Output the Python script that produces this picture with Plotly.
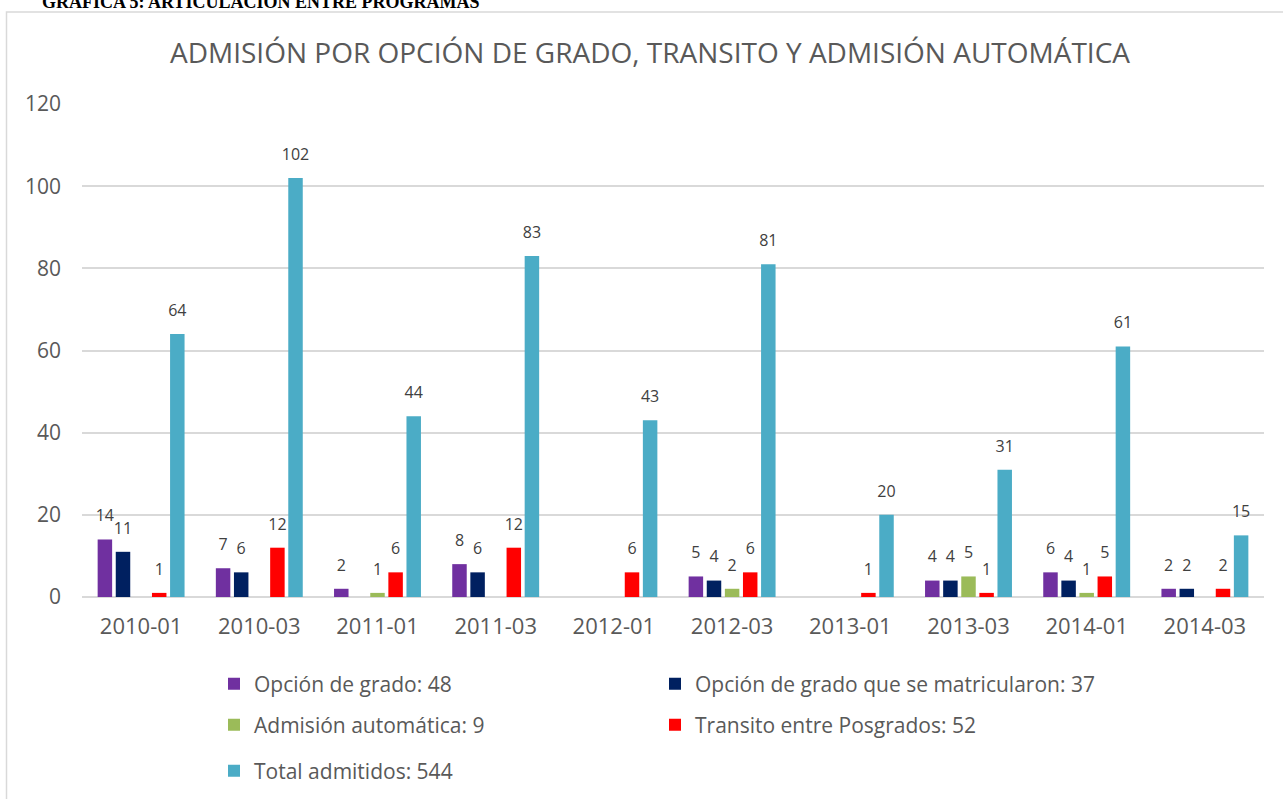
import plotly.graph_objects as go

categories = ["2010-01", "2010-03", "2011-01", "2011-03", "2012-01",
              "2012-03", "2013-01", "2013-03", "2014-01", "2014-03"]
opcion_grado = [14, 7, 2, 8, None, 5, None, 4, 6, 2]
opcion_matricularon = [11, 6, None, 6, None, 4, None, 4, 4, 2]
admision_automatica = [None, None, 1, None, None, 2, None, 5, 1, None]
transito = [1, 12, 6, 12, 6, 6, 1, 1, 5, 2]
total_admitidos = [64, 102, 44, 83, 43, 81, 20, 31, 61, 15]

series_names = ["Opción de grado: 48", "Opción de grado que se matricularon: 37",
                "Admisión automática: 9", "Transito entre Posgrados: 52",
                "Total admitidos: 544"]
series_values = [opcion_grado, opcion_matricularon, admision_automatica, transito, total_admitidos]
colors = ["#7030A0", "#002060", "#9BBB59", "#FF0000", "#4BACC6"]
legend_ids = ["legend", "legend", "legend2", "legend2", "legend3"]

W, H = 1283, 799
L, R, T, B = 82, 19, 104, 202
pw, ph = W - L - R, H - T - B

def px_x(px):
    return (px - L) / pw

def px_y(py):
    return (H - B - py) / ph

font = "Open Sans"
GAP = 0.234
fig = go.Figure()
for name, vals, col, lg in zip(series_names, series_values, colors, legend_ids):
    fig.add_trace(go.Bar(
        x=categories, y=vals, name=name, marker_color=col,
        marker_line_width=0, legend=lg,
    ))
# data labels: text-only scatter traces grouped like the bars
for name, vals in zip(series_names, series_values):
    fig.add_trace(go.Scatter(
        x=categories, y=vals, mode="text+markers", showlegend=False,
        marker=dict(size=21, opacity=0, color="white"),
        text=["" if v is None else str(v) for v in vals],
        textposition="top center", cliponaxis=False, hoverinfo="skip",
        textfont=dict(family=font, size=16, color="#404040"),
    ))

legend_common = dict(orientation="h", xanchor="left", yanchor="middle",
                     font=dict(family=font, size=21, color="#595959"),
                     entrywidth=396, entrywidthmode="pixels",
                     bgcolor="rgba(0,0,0,0)", itemwidth=30)

fig.update_layout(
    width=W, height=H,
    margin=dict(l=L, r=R, t=T, b=B, autoexpand=False),
    paper_bgcolor="white", plot_bgcolor="white",
    barmode="group", bargap=GAP, bargroupgap=0.2,
    scattermode="group", scattergap=GAP,
    title=dict(text="ADMISIÓN POR OPCIÓN DE GRADO, TRANSITO Y ADMISIÓN AUTOMÁTICA",
               x=px_x(650), xref="paper", xanchor="center",
               y=1 - 53 / H, yanchor="middle",
               font=dict(family=font, size=28, color="#595959")),
    legend=dict(x=px_x(214), y=px_y(684), **legend_common),
    legend2=dict(x=px_x(214), y=px_y(725), **legend_common),
    legend3=dict(x=px_x(214), y=px_y(771), **legend_common),
    xaxis=dict(type="category", showgrid=False, showline=False, ticks="",
               tickfont=dict(family=font, size=22, color="#595959"),
               ticklabelstandoff=14),
    yaxis=dict(range=[0, 120], dtick=20, showgrid=True, gridcolor="#d9d9d9",
               gridwidth=1.5, zeroline=True, zerolinecolor="#d9d9d9",
               zerolinewidth=1.5, showline=False, ticks="",
               tickfont=dict(family=font, size=21, color="#595959"),
               ticklabelstandoff=20),
    annotations=[dict(text="<b>GRÁFICA 5: ARTICULACIÓN ENTRE PROGRAMAS</b>",
                      xref="paper", yref="paper", x=px_x(260), y=px_y(14),
                      xanchor="center", yanchor="bottom", showarrow=False,
                      font=dict(family="Liberation Serif", size=18, color="black"))],
    shapes=[dict(type="rect", xref="paper", yref="paper",
                 x0=px_x(6.5), x1=px_x(1300), y0=px_y(12), y1=px_y(820),
                 line=dict(color="#d9d9d9", width=1.5), fillcolor="rgba(0,0,0,0)",
                 layer="below")],
)

fig.write_html("out.html", config={"displayModeBar": False},
               post_script="document.body.style.margin='0';")
